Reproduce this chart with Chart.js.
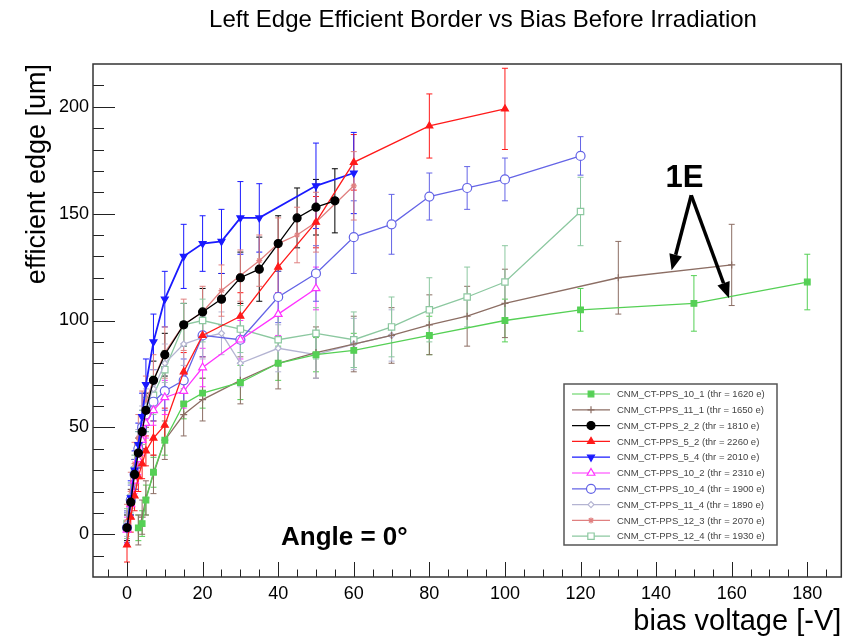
<!DOCTYPE html>
<html>
<head>
<meta charset="utf-8">
<script src="https://cdn.jsdelivr.net/npm/chart.js@4.4.1/dist/chart.umd.min.js"></script>
<style>
  html, body { margin: 0; padding: 0; background: #fff; }
  #wrap { width: 847px; height: 637px; }
</style>
</head>
<body>
<div id="wrap"><canvas id="edgeChart" width="847" height="637"></canvas></div>
<script>
    // bias voltage [-V], efficient edge [um] and error for each sensor
    const v10_1 = [3, 4, 5, 7, 10, 15, 20, 30, 40, 50, 60, 80, 100, 120, 150, 180];
    const y10_1 = [3, 5, 16, 29, 44, 61, 66, 71, 80, 84, 86, 93, 100, 105, 108, 118];
    const e10_1 = [6, 6, 7, 7, 7, 7, 7, 8, 8, 8, 8, 9, 10, 10, 13, 13];

    const v11_1 = [3, 4, 5, 7, 10, 15, 20, 30, 40, 50, 60, 70, 80, 90, 100, 130, 160];
    const y11_1 = [2, 8, 17, 28, 44, 56, 63, 72, 80, 85, 89, 93, 98, 102, 108, 120, 126];
    const e11_1 = [7, 8, 8, 9, 9, 10, 10, 11, 12, 12, 13, 13, 14, 14, 16, 17, 19];

    const v2_2 = [0, 1, 2, 3, 4, 5, 7, 10, 15, 20, 25, 30, 35, 40, 45, 50, 55];
    const y2_2 = [3, 15, 28, 38, 48, 58, 72, 84, 98, 104, 110, 120, 124, 136, 148, 153, 156];
    const e2_2 = [6, 6, 7, 7, 8, 8, 9, 10, 10, 11, 12, 12, 15, 13, 14, 13, 15];

    const v5_2 = [0, 1, 2, 3, 4, 5, 7, 10, 15, 20, 30, 40, 50, 60, 80, 100];
    const y5_2 = [-5, 8, 18, 27, 33, 39, 45, 51, 76, 93, 102, 125, 146, 174, 191, 199];
    const e5_2 = [8, 7, 7, 7, 7, 7, 8, 8, 9, 10, 11, 12, 12, 13, 15, 19];

    const v5_4 = [0, 1, 2, 3, 4, 5, 7, 10, 15, 20, 25, 30, 35, 50, 60];
    const y5_4 = [3, 17, 30, 42, 55, 70, 90, 110, 130, 136, 137, 148, 148, 163, 169];
    const e5_4 = [8, 8, 9, 10, 11, 12, 13, 13, 15, 13, 15, 17, 16, 20, 19];

    const v10_2 = [0, 1, 2, 3, 4, 5, 7, 10, 15, 20, 30, 40, 50];
    const y10_2 = [2, 14, 25, 35, 44, 52, 58, 64, 67, 78, 91, 103, 115];
    const e10_2 = [6, 6, 6, 7, 7, 7, 7, 8, 8, 9, 9, 10, 10];

    const v10_4 = [0, 1, 2, 3, 4, 5, 7, 10, 15, 20, 30, 40, 50, 60, 70, 80, 90, 100, 120];
    const y10_4 = [3, 16, 28, 40, 50, 56, 62, 67, 72, 93, 91, 111, 122, 139, 145, 158, 162, 166, 177];
    const e10_4 = [7, 7, 7, 8, 8, 8, 9, 9, 10, 10, 11, 12, 13, 17, 14, 11, 10, 10, 9];

    const v11_4 = [0, 1, 2, 3, 4, 5, 7, 10, 15, 20, 25, 30, 40, 50, 60, 70];
    const y11_4 = [5, 18, 30, 42, 52, 60, 68, 80, 89, 92, 94, 80, 87, 84, 89, 93];
    const e11_4 = [6, 6, 7, 7, 8, 8, 9, 9, 10, 10, 10, 11, 11, 11, 12, 12];

    const v12_3 = [0, 1, 2, 3, 4, 5, 7, 10, 15, 20, 25, 30, 35, 40, 45, 50, 60];
    const y12_3 = [6, 20, 33, 45, 55, 62, 72, 85, 98, 104, 114, 121, 128, 136, 140, 146, 163];
    const e12_3 = [8, 9, 10, 11, 12, 12, 12, 12, 12, 12, 12, 12, 12, 12, 13, 14, 16];

    const v12_4 = [0, 1, 2, 3, 4, 5, 7, 10, 15, 20, 30, 40, 50, 60, 70, 80, 90, 100, 120];
    const y12_4 = [5, 17, 30, 40, 50, 56, 65, 77, 98, 100, 96, 91, 94, 91, 97, 105, 111, 118, 151];
    const e12_4 = [7, 7, 7, 8, 8, 8, 9, 9, 10, 10, 11, 11, 12, 13, 14, 15, 14, 17, 16];

    const xTicks = [0, 20, 40, 60, 80, 100, 120, 140, 160, 180];
    const yTicks = [0, 50, 100, 150, 200];

    const series = [
        { label: 'CNM_CT-PPS_10_1', thr: '1620 e', v: v10_1, y: y10_1, e: e10_1, color: '#55d055', style: 'rect', fill: true, r: 4 },
        { label: 'CNM_CT-PPS_11_1', thr: '1650 e', v: v11_1, y: y11_1, e: e11_1, color: '#8c6e64', style: 'cross', fill: true, r: 3.5 },
        { label: 'CNM_CT-PPS_2_2', thr: '1810 e', v: v2_2, y: y2_2, e: e2_2, color: '#000000', style: 'circle', fill: true, r: 4 },
        { label: 'CNM_CT-PPS_5_2', thr: '2260 e', v: v5_2, y: y5_2, e: e5_2, color: '#ff1a1a', style: 'triangle', fill: true, r: 4 },
        { label: 'CNM_CT-PPS_5_4', thr: '2010 e', v: v5_4, y: y5_4, e: e5_4, color: '#1a1aff', style: 'triangle', fill: true, r: 4, rot: 180 },
        { label: 'CNM_CT-PPS_10_2', thr: '2310 e', v: v10_2, y: y10_2, e: e10_2, color: '#ff33ff', style: 'triangle', fill: false, r: 4.5 },
        { label: 'CNM_CT-PPS_10_4', thr: '1900 e', v: v10_4, y: y10_4, e: e10_4, color: '#6464e6', style: 'circle', fill: false, r: 4.5 },
        { label: 'CNM_CT-PPS_11_4', thr: '1890 e', v: v11_4, y: y11_4, e: e11_4, color: '#b4b4d2', style: 'rectRot', fill: false, r: 3 },
        { label: 'CNM_CT-PPS_12_3', thr: '2070 e', v: v12_3, y: y12_3, e: e12_3, color: '#e08080', style: 'star', fill: true, r: 3 },
        { label: 'CNM_CT-PPS_12_4', thr: '1930 e', v: v12_4, y: y12_4, e: e12_4, color: '#8cc8a0', style: 'rect', fill: false, r: 4.5 }
    ];

    const sansFont = '"Liberation Sans", Arial, Helvetica, sans-serif';

    // vertical error bars with small caps, drawn under the markers
    const errorBars = {
        id: 'errorBars',
        beforeDatasetsDraw(chart) {
            const { ctx, chartArea, scales } = chart;
            ctx.save();
            ctx.beginPath();
            ctx.rect(chartArea.left, chartArea.top, chartArea.right - chartArea.left, chartArea.bottom - chartArea.top);
            ctx.clip();
            series.forEach(s => {
                ctx.strokeStyle = s.color;
                ctx.lineWidth = 1;
                s.v.forEach((v, i) => {
                    const px = scales.x.getPixelForValue(v);
                    const top = scales.y.getPixelForValue(s.y[i] + s.e[i]);
                    const bot = scales.y.getPixelForValue(s.y[i] - s.e[i]);
                    ctx.beginPath();
                    ctx.moveTo(px, top); ctx.lineTo(px, bot);
                    ctx.moveTo(px - 3, top); ctx.lineTo(px + 3, top);
                    ctx.moveTo(px - 3, bot); ctx.lineTo(px + 3, bot);
                    ctx.stroke();
                });
            });
            ctx.restore();
        }
    };

    // ROOT-like frame, inward ticks, titles, legend box and notes
    const decorations = {
        id: 'decorations',
        afterDraw(chart) {
            const { ctx, chartArea, scales } = chart;
            const { left, right, top, bottom } = chartArea;
            const sx = scales.x, sy = scales.y;
            ctx.save();

            // ticks
            ctx.strokeStyle = '#222';
            ctx.lineWidth = 1;
            ctx.beginPath();
            for (let v = -5; v <= 185; v += 5) {
                const px = Math.round(sx.getPixelForValue(v)) + 0.5;
                const len = v % 20 === 0 ? 15 : 7.5;
                ctx.moveTo(px, bottom); ctx.lineTo(px, bottom - len);
            }
            for (let v = -10; v <= 210; v += 10) {
                const py = Math.round(sy.getPixelForValue(v)) + 0.5;
                const len = v % 50 === 0 ? 22 : 11;
                ctx.moveTo(left, py); ctx.lineTo(left + len, py);
            }
            ctx.stroke();

            // frame
            ctx.strokeStyle = '#333';
            ctx.lineWidth = 1.5;
            ctx.strokeRect(left, top, right - left, bottom - top);

            // titles
            ctx.fillStyle = '#000';
            ctx.font = '24px ' + sansFont;
            ctx.textAlign = 'center';
            ctx.textBaseline = 'alphabetic';
            ctx.fillText('Left Edge Efficient Border vs Bias Before Irradiation', 483, 27);

            ctx.font = '29px ' + sansFont;
            ctx.textAlign = 'right';
            ctx.fillText('bias voltage [-V]', right, 630);

            ctx.save();
            ctx.translate(45, top);
            ctx.rotate(-Math.PI / 2);
            ctx.font = '27px ' + sansFont;
            ctx.textAlign = 'right';
            ctx.textBaseline = 'alphabetic';
            ctx.fillText('efficient edge [um]', 0, 0);
            ctx.restore();

            // annotations placed in data coordinates
            ctx.font = 'bold 26px ' + sansFont;
            ctx.textAlign = 'center';
            ctx.textBaseline = 'middle';
            ctx.fillText('Angle = 0°', sx.getPixelForValue(57.5), sy.getPixelForValue(-1.5));

            ctx.font = 'bold 31px ' + sansFont;
            ctx.fillText('1E', sx.getPixelForValue(147.5), sy.getPixelForValue(166.5));

            const from = [sx.getPixelForValue(149.3), sy.getPixelForValue(158.6)];
            [[144.1, 123.5], [159.3, 110.4]].forEach(t => {
                const tx = sx.getPixelForValue(t[0]), ty = sy.getPixelForValue(t[1]);
                const ang = Math.atan2(ty - from[1], tx - from[0]);
                const head = 16, half = 6.5;
                const bx = tx - head * Math.cos(ang), by = ty - head * Math.sin(ang);
                ctx.strokeStyle = '#000';
                ctx.lineWidth = 3.5;
                ctx.beginPath();
                ctx.moveTo(from[0], from[1]);
                ctx.lineTo(bx, by);
                ctx.stroke();
                ctx.beginPath();
                ctx.moveTo(tx, ty);
                ctx.lineTo(bx + half * Math.sin(ang), by - half * Math.cos(ang));
                ctx.lineTo(bx - half * Math.sin(ang), by + half * Math.cos(ang));
                ctx.closePath();
                ctx.fillStyle = '#000';
                ctx.fill();
            });

            // legend box
            const lx = 564, ly = 384, lw = 213, lh = 161;
            ctx.fillStyle = '#fff';
            ctx.fillRect(lx, ly, lw, lh);
            ctx.strokeStyle = '#555';
            ctx.lineWidth = 1.5;
            ctx.strokeRect(lx, ly, lw, lh);
            series.forEach((s, i) => {
                const cy = ly + 10 + i * 15.8;
                ctx.strokeStyle = s.color;
                ctx.lineWidth = 1.2;
                ctx.beginPath();
                ctx.moveTo(572, cy); ctx.lineTo(610, cy);
                ctx.stroke();
                ctx.fillStyle = s.fill ? s.color : '#fff';
                ctx.lineWidth = 1.2;
                Chart.helpers.drawPoint(ctx, { pointStyle: s.style, radius: s.r, rotation: s.rot || 0, borderWidth: 1.2 }, 591, cy);
                ctx.fillStyle = '#444';
                ctx.font = '9.5px ' + sansFont;
                ctx.textAlign = 'left';
                ctx.textBaseline = 'middle';
                ctx.fillText(s.label + ' (thr = ' + s.thr + ')', 617, cy + 0.5);
            });

            ctx.restore();
        }
    };

    const datasets = series.map(s => ({
        label: s.label,
        data: s.v.map((v, i) => ({ x: v, y: s.y[i] })),
        showLine: true,
        borderColor: s.color,
        borderWidth: s.color === '#1a1aff' ? 1.8 : 1.3,
        backgroundColor: s.fill ? s.color : '#ffffff',
        pointBorderColor: s.color,
        pointBackgroundColor: s.fill ? s.color : '#ffffff',
        pointStyle: s.style,
        pointRotation: s.rot || 0,
        pointRadius: s.r,
        pointBorderWidth: 1.2,
        tension: 0
    }));

    const tickFont = { family: sansFont, size: 18 };

    new Chart(document.getElementById('edgeChart').getContext('2d'), {
        type: 'scatter',
        data: { datasets },
        options: {
            responsive: false,
            animation: false,
            layout: { padding: { top: 64, right: 4, left: 0, bottom: 0 } },
            plugins: {
                legend: { display: false },
                title: { display: false },
                tooltip: { enabled: false }
            },
            scales: {
                x: {
                    type: 'linear',
                    min: -9,
                    max: 189,
                    grid: { display: false, drawTicks: false },
                    border: { display: false },
                    ticks: { font: tickFont, color: '#000', padding: 6, maxRotation: 0, autoSkip: false },
                    afterBuildTicks: s => { s.ticks = xTicks.map(v => ({ value: v })); },
                    afterFit: s => { s.height = 60; }
                },
                y: {
                    type: 'linear',
                    min: -20,
                    max: 220,
                    grid: { display: false, drawTicks: false },
                    border: { display: false },
                    ticks: { font: tickFont, color: '#000', padding: 4, autoSkip: false },
                    afterBuildTicks: s => { s.ticks = yTicks.map(v => ({ value: v })); },
                    afterFit: s => { s.width = 93; }
                }
            }
        },
        plugins: [errorBars, decorations]
    });
</script>
</body>
</html>
